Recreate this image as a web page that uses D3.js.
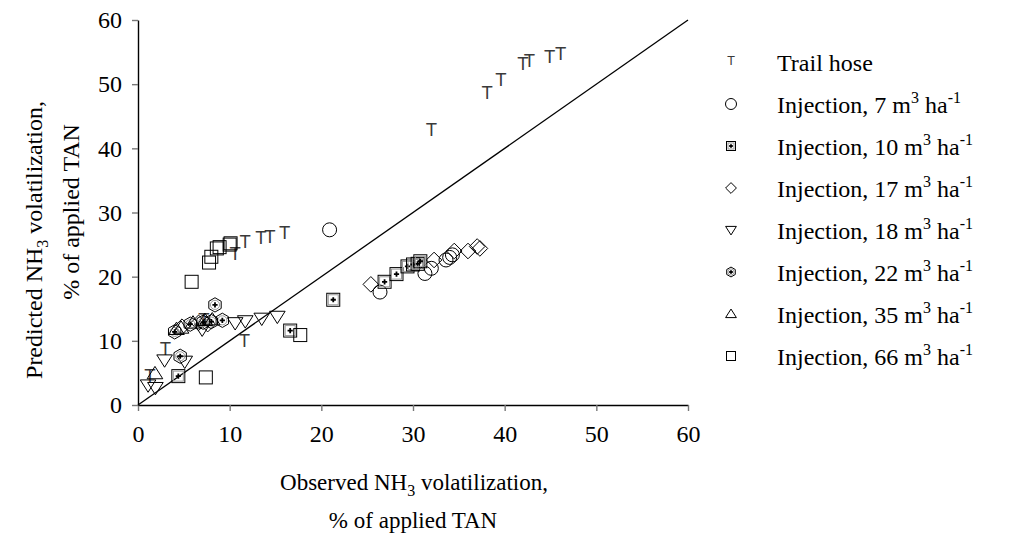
<!DOCTYPE html>
<html lang="en">
<head>
<meta charset="UTF-8">
<title>Predicted vs observed NH3 volatilization</title>
<script src="https://d3js.org/d3.v7.min.js"></script>
<style>
  body { margin: 0; background: #fff; }
  text { font-family: "Liberation Serif", "Times New Roman", serif; fill: #000; }
  .axis path { stroke: #000; stroke-width: 1.4px; }
  .axis line { stroke: #777; stroke-width: 1.4px; }
</style>
</head>
<body>
<script>
// observed (x) / predicted (y), % of applied TAN
const trailHose = [[32.0,42.7],[38.1,48.4],[39.6,50.5],[42.0,53.0],[42.7,53.4],[44.9,54.0],[46.1,54.5],
  [10.6,23.4],[11.7,25.3],[13.4,25.8],[14.4,26.0],[16.0,26.6],[11.6,9.8],[3.0,8.6],[1.3,4.4],[7.2,13.0]];
const inj7 = [[20.9,27.3],[26.4,17.6],[31.3,20.5],[32.0,21.3],[33.6,22.6],[34.0,23.0],[34.3,23.4]];
const inj10 = [[26.9,19.2],[28.2,20.4],[29.4,21.6],[30.0,21.9],[30.5,22.0],[30.8,22.4],[16.6,11.6],[4.4,4.5],[21.3,16.4]];
const inj17 = [[25.4,18.8],[32.3,22.6],[34.5,24.0],[36.0,24.0],[37.0,24.7],[37.3,24.4],[4.8,12.2],[6.6,12.8],[7.6,12.6]];
const inj18 = [[10.6,12.8],[11.7,13.1],[13.5,13.5],[15.2,13.8],[7.0,11.8],[2.9,7.0],[5.1,6.8],[1.1,3.1],[1.9,2.7]];
const inj22 = [[8.4,15.6],[9.2,13.2],[4.6,7.6],[4.0,11.4],[5.7,12.6],[7.1,12.9],[8.0,13.0]];
const inj35 = [[4.2,11.8],[4.7,12.0],[6.0,12.8],[7.3,13.2],[8.1,13.3],[1.85,4.9]];
const inj66 = [[7.4,4.3],[17.7,10.9],[5.85,19.2],[7.75,22.2],[8.0,23.1],[8.6,24.4],[8.9,24.6],[10.0,25.0],[10.1,25.2]];

const seriesNames = ["Trail hose", "7", "10", "17", "18", "22", "35", "66"];
const seriesData = [trailHose, inj7, inj10, inj17, inj18, inj22, inj35, inj66];
const seriesShapes = ["T", "circle", "squarePlus", "diamond", "triDown", "hexPlus", "triUp", "square"];
const ticks = [0, 10, 20, 30, 40, 50, 60];

const W = 1012, H = 539;
const x = d3.scaleLinear().domain([0, 60]).range([138, 688]);
const y = d3.scaleLinear().domain([0, 60]).range([405, 20]);

const svg = d3.select("body").append("svg").attr("width", W).attr("height", H);

// draws one marker at origin, s = half width
function marker(g, shape, s) {
  const add = (tag) => g.append(tag).attr("fill", "none").attr("stroke", "#000").attr("stroke-width", 1);
  if (shape === "T") {
    g.append("text").attr("text-anchor", "middle").attr("y", s * 0.75)
      .style("font-family", "'DejaVu Sans', sans-serif").style("font-size", (s * 2.6) + "px")
      .style("fill", "#3a3a3a").text("T");
  } else if (shape === "circle") {
    add("circle").attr("r", s);
  } else if (shape === "square" || shape === "squarePlus") {
    add("rect").attr("x", -s).attr("y", -s).attr("width", 2 * s).attr("height", 2 * s);
    if (shape === "squarePlus") {
      add("rect").attr("x", -s + 1.5).attr("y", -s + 1.5).attr("width", 2 * s - 3).attr("height", 2 * s - 3)
        .attr("stroke", "#999");
      add("path").attr("d", `M${-s * 0.4},0H${s * 0.4}M0,${-s * 0.4}V${s * 0.4}`).attr("stroke-width", 1.8);
    }
  } else if (shape === "diamond") {
    add("path").attr("d", `M0,${-s * 1.2}L${s * 1.2},0L0,${s * 1.2}L${-s * 1.2},0Z`);
  } else if (shape === "triDown") {
    add("path").attr("d", `M${-s * 1.2},${-s * 0.8}L${s * 1.2},${-s * 0.8}L0,${s * 1.1}Z`);
  } else if (shape === "triUp") {
    add("path").attr("d", `M${-s * 1.2},${s * 0.8}L${s * 1.2},${s * 0.8}L0,${-s * 1.1}Z`);
  } else if (shape === "hexPlus") {
    const pts = d3.range(6).map(i => {
      const a = Math.PI / 6 + i * Math.PI / 3;
      return [s * 1.1 * Math.cos(a), s * 1.1 * Math.sin(a)];
    });
    add("path").attr("d", "M" + pts.join("L") + "Z");
    add("circle").attr("r", s * 0.7).attr("stroke", "#999");
    add("path").attr("d", `M${-s * 0.4},0H${s * 0.4}M0,${-s * 0.4}V${s * 0.4}`).attr("stroke-width", 1.8);
  }
}

// axes
const xAxis = svg.append("g").attr("class", "axis").attr("transform", "translate(0,405)")
  .call(d3.axisBottom(x).tickValues(ticks).tickSize(6).tickPadding(14).tickSizeOuter(0).tickFormat(d3.format("d")));
const yAxis = svg.append("g").attr("class", "axis").attr("transform", "translate(138,0)")
  .call(d3.axisLeft(y).tickValues(ticks).tickSize(6).tickPadding(10).tickSizeOuter(0).tickFormat(d3.format("d")));
[xAxis, yAxis].forEach(a => a.attr("font-family", null).attr("font-size", null)
  .selectAll("text").style("font-family", "'Liberation Serif', serif").style("font-size", "24px"));

// 1:1 line
svg.append("line")
  .attr("x1", x(0)).attr("y1", y(0)).attr("x2", x(60)).attr("y2", y(60))
  .attr("stroke", "#000").attr("stroke-width", 1.3);

// points
seriesData.forEach((pts, i) => {
  const size = seriesShapes[i] === "circle" ? 7 : 6.5;
  svg.append("g").selectAll("g").data(pts).join("g")
    .attr("transform", d => `translate(${x(d[0])},${y(d[1])})`)
    .each(function () { marker(d3.select(this), seriesShapes[i], size); });
});

// axis titles
const yt = svg.append("text").attr("transform", "translate(42,240) rotate(-90)")
  .attr("text-anchor", "middle").style("font-size", "24px");
yt.append("tspan").text("Predicted NH");
yt.append("tspan").text("3").attr("dy", 6).style("font-size", "16px");
yt.append("tspan").text(" volatilization,").attr("dy", -6);
svg.append("text").attr("transform", "translate(79,212) rotate(-90)")
  .attr("text-anchor", "middle").style("font-size", "24px").text("% of applied TAN");

const xt = svg.append("text").attr("x", 414).attr("y", 490)
  .attr("text-anchor", "middle").style("font-size", "23px");
xt.append("tspan").text("Observed NH");
xt.append("tspan").text("3").attr("dy", 6).style("font-size", "16px");
xt.append("tspan").text(" volatilization,").attr("dy", -6);
svg.append("text").attr("x", 413).attr("y", 528)
  .attr("text-anchor", "middle").style("font-size", "23px").text("% of applied TAN");

// legend
seriesNames.forEach((name, i) => {
  const ly = 62 + i * 42;
  const g = svg.append("g").attr("transform", `translate(731,${ly})`);
  marker(g, seriesShapes[i], seriesShapes[i] === "circle" ? 5.5 : 4.5);
  const t = svg.append("text").attr("x", 777).attr("y", ly + 9).style("font-size", "24px");
  if (i === 0) { t.text(name); return; }
  t.append("tspan").text(`Injection, ${name} m`);
  t.append("tspan").text("3").attr("dy", -10).style("font-size", "16px");
  t.append("tspan").text(" ha").attr("dy", 10);
  t.append("tspan").text("-1").attr("dy", -10).style("font-size", "16px");
});
</script>
</body>
</html>
